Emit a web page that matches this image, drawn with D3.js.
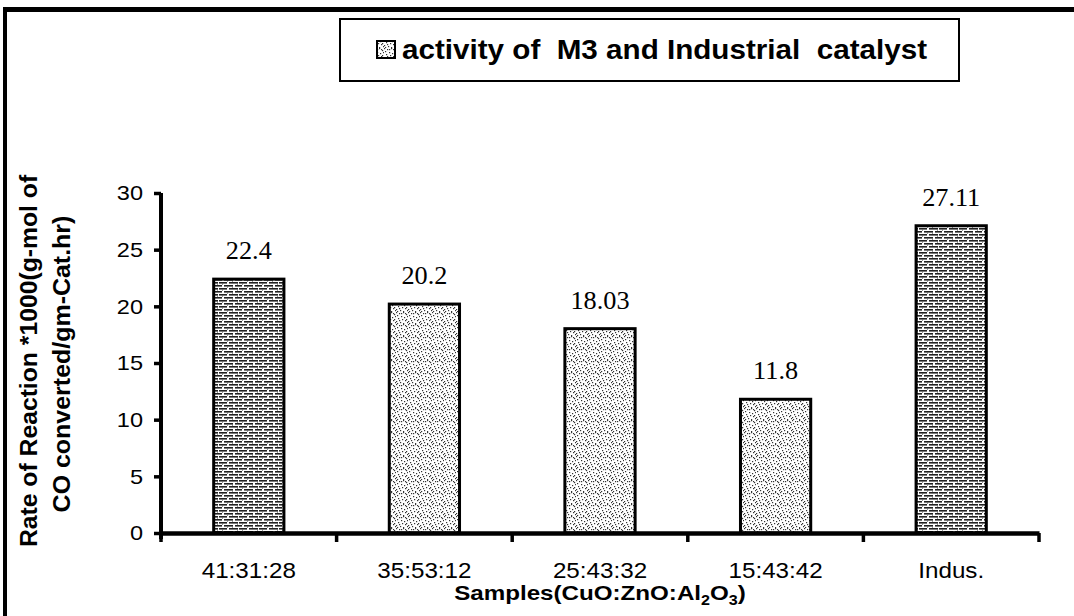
<!DOCTYPE html>
<html>
<head>
<meta charset="utf-8">
<script src="https://cdn.jsdelivr.net/npm/d3@7"></script>
<style>
  html, body { margin: 0; padding: 0; background: #fff; }
  svg { display: block; }
</style>
</head>
<body>
<svg id="chart" width="1074" height="616"></svg>
<script>
// Catalyst samples and their measured reaction rates
const samples = ["41:31:28", "35:53:12", "25:43:32", "15:43:42", "Indus."];
const rates = [22.4, 20.2, 18.03, 11.8, 27.11];
const rateLabels = ["22.4", "20.2", "18.03", "11.8", "27.11"];
const fillStyle = ["lined", "dotted", "dotted", "dotted", "lined"];
const yTicks = [0, 5, 10, 15, 20, 25, 30];
const legendText = "activity of  M3 and Industrial  catalyst";

const svg = d3.select("#chart");
const sans = "'Liberation Sans', Arial, sans-serif";
const serif = "'Liberation Serif', 'Times New Roman', serif";

// widen a text element by factor k
function stretch(sel, k) {
  sel.each(function () {
    const w = this.getComputedTextLength();
    d3.select(this).attr("textLength", w * k).attr("lengthAdjust", "spacingAndGlyphs");
  });
}

// fill textures
const defs = svg.append("defs");
const lined = defs.append("pattern").attr("id", "lined")
  .attr("patternUnits", "userSpaceOnUse").attr("width", 20).attr("height", 6);
lined.append("rect").attr("width", 20).attr("height", 6).attr("fill", "#fff");
[[0, 0, 7], [9, 0, 9], [19, 0, 1], [0, 3, 2], [4, 3, 9], [15, 3, 5]]
  .forEach(([x, y, w]) => lined.append("rect").attr("x", x).attr("y", y)
    .attr("width", w).attr("height", 1.6).attr("fill", "#222"));
[[2, 1.6], [12, 4.6], [17, 1.6], [7, 4.6]]
  .forEach(([x, y]) => lined.append("rect").attr("x", x).attr("y", y)
    .attr("width", 1).attr("height", 1).attr("fill", "#555"));

const dotted = defs.append("pattern").attr("id", "dotted")
  .attr("patternUnits", "userSpaceOnUse").attr("width", 12).attr("height", 12);
dotted.append("rect").attr("width", 12).attr("height", 12).attr("fill", "#fff");
[[0,0],[3,1],[7,0],[10,2],[1,3],[5,4],[8,5],[11,4],[2,6],[6,7],[9,8],[0,9],[4,10],[7,11],[11,10],[3,8],[9,1],[5,1],[1,11],[10,7]]
  .forEach(([x, y]) => dotted.append("rect").attr("x", x).attr("y", y)
    .attr("width", 1.2).attr("height", 1.2).attr("fill", "#333"));

// outer frame: top rule and left rule
svg.append("rect").attr("x", 3).attr("y", 7).attr("width", 1071).attr("height", 5).attr("fill", "#000");
svg.append("rect").attr("x", 3).attr("y", 7).attr("width", 4).attr("height", 609).attr("fill", "#000");

// scales
const x = d3.scaleBand().domain(samples).range([161, 1039]).paddingInner(0.6).paddingOuter(0.3);
const y = d3.scaleLinear().domain([0, 30]).range([533, 193]);

// bars
svg.append("g").selectAll("rect").data(samples).join("rect")
  .attr("x", d => x(d))
  .attr("y", (d, i) => y(rates[i]))
  .attr("width", x.bandwidth())
  .attr("height", (d, i) => y(0) - y(rates[i]))
  .attr("fill", (d, i) => `url(#${fillStyle[i]})`)
  .attr("stroke", "#000").attr("stroke-width", 3);

// value labels
svg.append("g").selectAll("text").data(samples).join("text")
  .attr("x", d => x(d) + x.bandwidth() / 2)
  .attr("y", (d, i) => y(rates[i]) - 20)
  .attr("text-anchor", "middle")
  .attr("font-family", serif).attr("font-size", 25)
  .text((d, i) => rateLabels[i])
  .call(stretch, 1.05);

// y axis
const yAxis = svg.append("g").attr("transform", "translate(161,0)")
  .call(d3.axisLeft(y).tickValues(yTicks).tickSize(7).tickPadding(11));
yAxis.select(".domain").attr("d", `M0,${y(30)}V${y(0) + 6}`)
  .attr("stroke", "#000").attr("stroke-width", 4);
yAxis.selectAll(".tick line").attr("stroke", "#000").attr("stroke-width", 3.5);
yAxis.selectAll(".tick text").attr("font-family", sans).attr("font-size", 21).attr("fill", "#000")
  .call(stretch, 1.12);

// x axis: labels at band centres, ticks on band boundaries
const xAxis = svg.append("g").attr("transform", `translate(0,${y(0)})`)
  .call(d3.axisBottom(x).tickSize(0).tickPadding(29));
xAxis.select(".domain").attr("stroke", "#000").attr("stroke-width", 4.5);
xAxis.selectAll(".tick text").attr("font-family", sans).attr("font-size", 22).attr("fill", "#000")
  .call(stretch, 1.1);
const gap = (x.step() - x.bandwidth()) / 2;
const bounds = samples.map(d => x(d) - gap).concat([x(samples[samples.length - 1]) + x.bandwidth() + gap]);
xAxis.selectAll("line.bound").data(bounds).join("line").attr("class", "bound")
  .attr("x1", d => d).attr("x2", d => d).attr("y1", 0).attr("y2", 9)
  .attr("stroke", "#000").attr("stroke-width", 3.5);

// x axis title with subscripts
const xt = svg.append("text").attr("x", 600).attr("y", 600)
  .attr("text-anchor", "middle").attr("font-family", sans)
  .attr("font-size", 21).attr("font-weight", "bold");
xt.append("tspan").text("Samples(CuO:ZnO:Al");
xt.append("tspan").attr("font-size", 14).attr("dy", 5).text("2");
xt.append("tspan").attr("dy", -5).text("O");
xt.append("tspan").attr("font-size", 14).attr("dy", 5).text("3");
xt.append("tspan").attr("dy", -5).text(")");
xt.call(stretch, 1.15);

// y axis title, two lines
const yt = svg.append("g").attr("transform", "translate(0,361) rotate(-90)");
yt.append("text").attr("x", 0).attr("y", 37).attr("text-anchor", "middle")
  .attr("font-family", sans).attr("font-size", 24).attr("font-weight", "bold")
  .text("Rate of Reaction *1000(g-mol of").call(stretch, 1.03);
yt.append("text").attr("x", -3).attr("y", 70).attr("text-anchor", "middle")
  .attr("font-family", sans).attr("font-size", 24).attr("font-weight", "bold")
  .text("CO converted/gm-Cat.hr)").call(stretch, 1.04);

// legend
const lg = svg.append("g");
lg.append("rect").attr("x", 340).attr("y", 19).attr("width", 619).attr("height", 62)
  .attr("fill", "#fff").attr("stroke", "#000").attr("stroke-width", 2);
lg.append("rect").attr("x", 377).attr("y", 41).attr("width", 18).attr("height", 17)
  .attr("fill", "url(#dotted)").attr("stroke", "#000").attr("stroke-width", 2);
lg.append("text").attr("x", 402).attr("y", 59)
  .attr("font-family", sans).attr("font-size", 27).attr("font-weight", "bold")
  .attr("textLength", 525).attr("lengthAdjust", "spacingAndGlyphs")
  .style("white-space", "pre").text(legendText);
</script>
</body>
</html>
